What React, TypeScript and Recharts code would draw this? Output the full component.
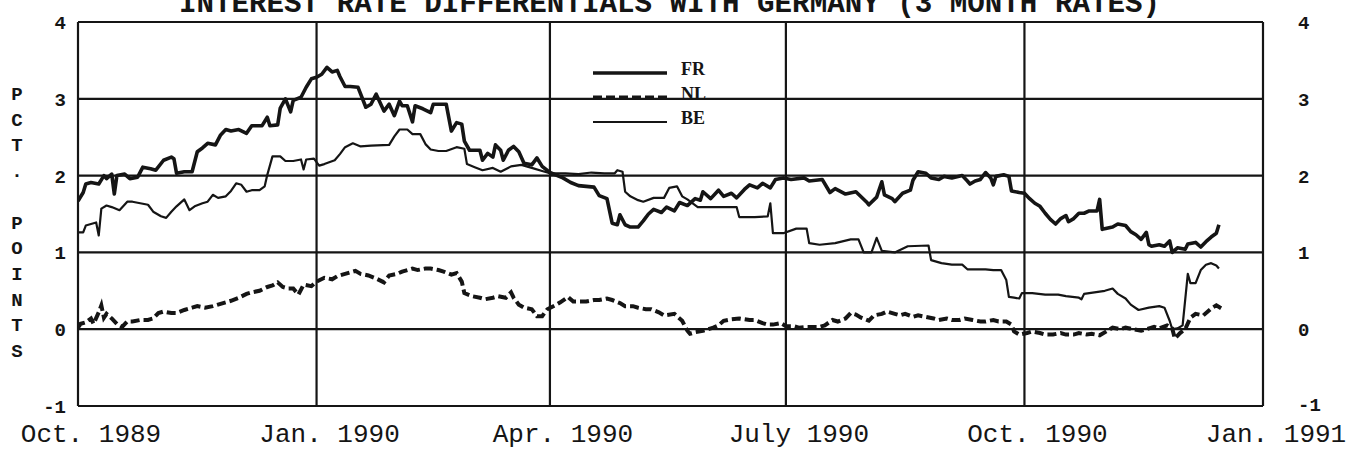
import React from 'react'
import { LineChart, Line, XAxis, YAxis, CartesianGrid, Legend } from 'recharts'

// days counted from 1 Oct 1989
const quarterDays = [0, 92, 182, 273, 365, 457]
const quarterLabels = ['Oct. 1989', 'Jan. 1990', 'Apr. 1990', 'July 1990', 'Oct. 1990', 'Jan. 1991']
const yTicks = [-1, 0, 1, 2, 3, 4]

const title = 'INTEREST RATE DIFFERENTIALS WITH GERMANY (3 MONTH RATES)'
const yTitle = 'PCT. POINTS'

// [day, pct. points]
const frPoints: [number, number][] = [
  [0, 1.67], [2, 1.78], [3, 1.89], [5, 1.91], [8, 1.89], [10, 2.0], [11, 1.96], [13, 2.02], [14, 1.76], [15, 2.0],
  [18, 2.02], [20, 1.96], [23, 1.98], [25, 2.11], [28, 2.09], [30, 2.07], [33, 2.2], [36, 2.24], [37, 2.22], [38, 2.03],
  [41, 2.05], [44, 2.05], [46, 2.31], [48, 2.36], [50, 2.42], [53, 2.4], [55, 2.53], [57, 2.6], [59, 2.58], [62, 2.6],
  [65, 2.55], [67, 2.65], [71, 2.65], [73, 2.76], [74, 2.65], [77, 2.66], [78, 2.88], [80, 3.0], [82, 2.83], [83, 2.98],
  [86, 3.02], [88, 3.15], [90, 3.26], [92, 3.28], [94, 3.32], [96, 3.41], [98, 3.35], [100, 3.37], [101, 3.29], [103, 3.16],
  [105, 3.16], [108, 3.15], [111, 2.89], [113, 2.93], [115, 3.06], [118, 2.84], [120, 2.93], [122, 2.78], [124, 2.97], [125, 2.91],
  [127, 2.91], [129, 2.7], [130, 2.91], [133, 2.87], [136, 2.82], [137, 2.93], [142, 2.93], [144, 2.58], [146, 2.69], [148, 2.67],
  [149, 2.45], [151, 2.33], [155, 2.33], [156, 2.2], [158, 2.29], [160, 2.24], [161, 2.4], [163, 2.33], [164, 2.2], [166, 2.33],
  [168, 2.38], [170, 2.31], [172, 2.16], [175, 2.14], [177, 2.23], [179, 2.12], [182, 2.04], [187, 1.97], [190, 1.91], [193, 1.87],
  [199, 1.85], [201, 1.74], [204, 1.7], [206, 1.38], [208, 1.36], [209, 1.49], [211, 1.36], [213, 1.33], [216, 1.33], [218, 1.41],
  [220, 1.5], [222, 1.56], [225, 1.52], [227, 1.59], [230, 1.54], [232, 1.65], [235, 1.61], [238, 1.7], [240, 1.68], [241, 1.79],
  [244, 1.7], [247, 1.81], [249, 1.73], [252, 1.77], [254, 1.71], [257, 1.82], [259, 1.88], [262, 1.84], [264, 1.9], [267, 1.84],
  [269, 1.95], [272, 1.97], [275, 1.95], [280, 1.97], [282, 1.93], [287, 1.95], [290, 1.78], [292, 1.83], [296, 1.76], [300, 1.79],
  [304, 1.66], [305, 1.62], [308, 1.72], [310, 1.92], [311, 1.75], [314, 1.7], [315, 1.66], [318, 1.77], [321, 1.81], [322, 1.94],
  [324, 2.05], [327, 2.03], [329, 1.97], [332, 1.95], [334, 1.99], [337, 1.97], [341, 2.0], [343, 1.93], [344, 1.89], [346, 1.93],
  [348, 1.95], [350, 2.04], [352, 1.97], [353, 1.88], [354, 1.99], [357, 2.01], [359, 1.99], [360, 1.8], [363, 1.78], [365, 1.77],
  [367, 1.7], [369, 1.64], [371, 1.6], [373, 1.51], [375, 1.43], [377, 1.37], [379, 1.44], [381, 1.48], [382, 1.4], [384, 1.44],
  [386, 1.51], [388, 1.51], [390, 1.54], [393, 1.54], [394, 1.69], [395, 1.3], [399, 1.33], [401, 1.37], [404, 1.35], [406, 1.27],
  [408, 1.23], [410, 1.17], [412, 1.26], [413, 1.1], [414, 1.08], [417, 1.1], [419, 1.08], [421, 1.15], [422, 1.0], [424, 1.06],
  [427, 1.04], [428, 1.11], [431, 1.13], [433, 1.07], [435, 1.14], [437, 1.2], [439, 1.25], [440, 1.36],
]

const nlPoints: [number, number][] = [
  [0, 0.02], [1, 0.07], [3, 0.09], [5, 0.14], [6, 0.07], [8, 0.22], [9, 0.31], [10, 0.15], [11, 0.2], [13, 0.14],
  [15, 0.07], [17, 0.03], [19, 0.1], [21, 0.1], [24, 0.12], [27, 0.12], [29, 0.14], [31, 0.21], [33, 0.23], [36, 0.21],
  [38, 0.21], [41, 0.25], [44, 0.28], [46, 0.3], [49, 0.28], [52, 0.3], [54, 0.32], [57, 0.35], [59, 0.37], [62, 0.41],
  [65, 0.46], [67, 0.48], [70, 0.5], [73, 0.55], [75, 0.57], [77, 0.61], [79, 0.55], [81, 0.53], [83, 0.53], [85, 0.45],
  [87, 0.58], [90, 0.56], [92, 0.62], [95, 0.67], [98, 0.65], [100, 0.69], [103, 0.72], [105, 0.74], [107, 0.76], [109, 0.72],
  [112, 0.7], [115, 0.66], [118, 0.61], [120, 0.7], [123, 0.72], [125, 0.75], [129, 0.79], [131, 0.77], [134, 0.79], [136, 0.79],
  [139, 0.77], [141, 0.75], [144, 0.71], [146, 0.73], [148, 0.62], [149, 0.47], [152, 0.43], [155, 0.41], [157, 0.39], [160, 0.41],
  [162, 0.43], [165, 0.41], [167, 0.48], [168, 0.41], [170, 0.32], [172, 0.28], [175, 0.26], [177, 0.17], [179, 0.17], [181, 0.26],
  [184, 0.31], [186, 0.35], [189, 0.42], [191, 0.36], [194, 0.36], [196, 0.36], [199, 0.38], [201, 0.38], [204, 0.4], [206, 0.38],
  [209, 0.34], [211, 0.3], [214, 0.3], [216, 0.28], [219, 0.26], [221, 0.26], [224, 0.22], [226, 0.18], [230, 0.2], [233, 0.11],
  [235, -0.02], [236, -0.06], [238, -0.04], [241, -0.02], [243, 0.0], [245, 0.02], [247, 0.05], [249, 0.11], [252, 0.13], [255, 0.14],
  [259, 0.12], [261, 0.12], [264, 0.08], [266, 0.06], [268, 0.06], [271, 0.08], [273, 0.04], [276, 0.04], [278, 0.02], [281, 0.03],
  [283, 0.03], [286, 0.03], [288, 0.05], [291, 0.12], [293, 0.1], [296, 0.14], [298, 0.21], [300, 0.19], [302, 0.15], [305, 0.11],
  [307, 0.18], [310, 0.2], [312, 0.23], [315, 0.2], [317, 0.18], [319, 0.2], [322, 0.16], [324, 0.18], [327, 0.16], [330, 0.14],
  [332, 0.12], [335, 0.14], [337, 0.12], [340, 0.12], [342, 0.14], [345, 0.12], [348, 0.1], [350, 0.1], [353, 0.12], [355, 0.1],
  [358, 0.1], [360, 0.06], [361, -0.03], [363, -0.07], [366, -0.05], [368, -0.03], [371, -0.05], [373, -0.07], [376, -0.07], [379, -0.05],
  [381, -0.07], [384, -0.07], [386, -0.05], [389, -0.07], [391, -0.06], [394, -0.08], [397, -0.02], [399, 0.02], [402, 0.0], [404, 0.02],
  [407, 0.0], [410, -0.02], [412, 0.0], [415, 0.03], [417, 0.01], [420, 0.05], [422, 0.01], [423, -0.12], [425, -0.05], [427, 0.0],
  [429, 0.15], [431, 0.2], [434, 0.18], [437, 0.27], [439, 0.31], [441, 0.27],
]

const bePoints: [number, number][] = [
  [0, 1.26], [2, 1.26], [3, 1.35], [5, 1.37], [7, 1.39], [8, 1.22], [9, 1.57], [11, 1.61], [13, 1.59], [16, 1.55],
  [19, 1.66], [21, 1.66], [24, 1.64], [27, 1.62], [29, 1.53], [32, 1.47], [34, 1.45], [36, 1.53], [38, 1.6], [41, 1.69],
  [43, 1.55], [45, 1.6], [48, 1.64], [50, 1.66], [52, 1.75], [54, 1.71], [57, 1.73], [59, 1.8], [61, 1.9], [63, 1.88],
  [65, 1.79], [67, 1.81], [70, 1.81], [72, 1.86], [73, 2.01], [75, 2.25], [78, 2.25], [80, 2.19], [83, 2.19], [86, 2.21],
  [87, 2.08], [88, 2.21], [91, 2.22], [93, 2.13], [95, 2.15], [99, 2.2], [101, 2.28], [103, 2.37], [106, 2.42], [109, 2.38],
  [113, 2.39], [120, 2.4], [122, 2.51], [124, 2.6], [127, 2.6], [129, 2.54], [132, 2.54], [134, 2.41], [136, 2.34], [139, 2.32],
  [142, 2.32], [146, 2.37], [149, 2.35], [150, 2.15], [153, 2.11], [156, 2.07], [160, 2.1], [163, 2.05], [167, 2.12], [171, 2.14],
  [175, 2.1], [179, 2.06], [182, 2.03], [188, 2.03], [193, 2.02], [198, 2.04], [203, 2.03], [207, 2.03], [208, 2.07], [210, 2.05],
  [211, 1.79], [213, 1.73], [216, 1.68], [218, 1.66], [222, 1.71], [226, 1.71], [228, 1.84], [231, 1.86], [233, 1.73], [235, 1.69],
  [239, 1.59], [248, 1.59], [254, 1.59], [255, 1.46], [261, 1.46], [266, 1.47], [267, 1.64], [268, 1.25], [272, 1.25], [277, 1.31],
  [281, 1.31], [282, 1.12], [286, 1.1], [292, 1.12], [298, 1.17], [301, 1.17], [303, 1.0], [306, 1.0], [308, 1.19], [310, 1.02],
  [315, 1.0], [320, 1.08], [328, 1.09], [329, 0.9], [333, 0.86], [337, 0.84], [341, 0.84], [343, 0.78], [350, 0.78], [353, 0.77],
  [356, 0.77], [358, 0.64], [359, 0.42], [361, 0.41], [363, 0.4], [364, 0.47], [368, 0.47], [373, 0.45], [378, 0.45], [381, 0.43],
  [386, 0.41], [387, 0.39], [388, 0.46], [392, 0.48], [396, 0.5], [399, 0.53], [401, 0.46], [404, 0.4], [406, 0.32], [409, 0.25],
  [413, 0.28], [417, 0.3], [419, 0.28], [421, 0.11], [422, 0.0], [424, 0.01], [426, 0.05], [428, 0.72], [429, 0.6], [431, 0.6],
  [433, 0.77], [435, 0.84], [437, 0.86], [439, 0.83], [440, 0.79],
]

const toRows = (pts: [number, number][]) => pts.map(([day, v]) => ({ day, v }))

const ink = '#151515'
const mono = "'Liberation Mono', 'Courier New', monospace"

const seriesStyle: Record<string, { w: number; dash?: string }> = {
  FR: { w: 3.6 },
  NL: { w: 4, dash: '9 4' },
  BE: { w: 2.2 },
}

const LeftTick = ({ x, y, payload }: any) => (
  <text x={x} y={y} dy={7} textAnchor="end" fontFamily={mono} fontWeight="bold" fontSize={19} fill={ink}>
    {payload.value}
  </text>
)

const RightTick = ({ x, y, payload }: any) => (
  <text x={x} y={y} dy={payload.value === -1 ? 5 : 7} textAnchor="start" fontFamily={mono} fontWeight="bold" fontSize={19} fill={ink}>
    {payload.value}
  </text>
)

const BottomTick = ({ x, y, payload }: any) => (
  <text x={x + 13} y={y + 36} textAnchor="middle" fontFamily={mono} fontSize={26} fill={ink}>
    {quarterLabels[quarterDays.indexOf(payload.value)]}
  </text>
)

const LegendBox = () => (
  <svg width={140} height={80}>
    {['FR', 'NL', 'BE'].map((name, i) => {
      const ly = 15 + i * 24.5
      const s = seriesStyle[name]
      return (
        <g key={name}>
          <line x1={3} x2={77} y1={ly} y2={ly} stroke={ink} strokeWidth={s.w} strokeDasharray={s.dash} />
          <text x={91} y={ly + 2} fontFamily="'Liberation Serif', serif" fontWeight="bold" fontSize={18} fill={ink}>
            {name}
          </text>
        </g>
      )
    })}
  </svg>
)

export default function App() {
  return (
    <div style={{ position: 'absolute', left: 0, top: 0, width: 1360, height: 455, background: '#fff' }}>
      <LineChart width={1360} height={455} margin={{ top: 22, right: 0, bottom: 0, left: 0 }}>
        <CartesianGrid stroke={ink} strokeWidth={2.2} />
        <XAxis
          dataKey="day"
          type="number"
          domain={[0, 457]}
          ticks={quarterDays}
          interval={0}
          height={49}
          axisLine={false}
          tickLine={false}
          tickSize={0}
          tickMargin={0}
          tick={<BottomTick />}
          allowDataOverflow
        />
        <YAxis
          domain={[-1, 4]}
          ticks={yTicks}
          interval={0}
          width={78}
          axisLine={false}
          tickLine={false}
          tickSize={0}
          tickMargin={12}
          tick={<LeftTick />}
          allowDataOverflow
        />
        <YAxis
          yAxisId="r"
          orientation="right"
          domain={[-1, 4]}
          ticks={yTicks}
          interval={0}
          width={97}
          axisLine={false}
          tickLine={false}
          tickSize={0}
          tickMargin={35}
          tick={<RightTick />}
          allowDataOverflow
        />
        <Legend
          layout="horizontal"
          verticalAlign="middle"
          align="center"
          content={<LegendBox />}
          wrapperStyle={{ position: 'absolute', left: 590, top: 58, width: 140, height: 80 }}
        />
        <Line data={toRows(bePoints)} dataKey="v" name="BE" type="linear" stroke={ink} strokeWidth={seriesStyle.BE.w}
          dot={false} activeDot={false} isAnimationActive={false} strokeLinejoin="round" />
        <Line data={toRows(nlPoints)} dataKey="v" name="NL" type="linear" stroke={ink} strokeWidth={seriesStyle.NL.w}
          strokeDasharray={seriesStyle.NL.dash} dot={false} activeDot={false} isAnimationActive={false} />
        <Line data={toRows(frPoints)} dataKey="v" name="FR" type="linear" stroke={ink} strokeWidth={seriesStyle.FR.w}
          dot={false} activeDot={false} isAnimationActive={false} strokeLinejoin="round" />
      </LineChart>
      <svg width={1360} height={455} style={{ position: 'absolute', left: 0, top: 0, pointerEvents: 'none' }}>
        <text x={179} y={12} textLength={981} lengthAdjust="spacingAndGlyphs" fontFamily={mono} fontWeight="bold" fontSize={29} fill={ink}>
          {title}
        </text>
        {yTitle.split('').map((ch, i) =>
          ch === ' ' ? null : (
            <text key={i} x={17} y={100 + i * 25.7} textAnchor="middle" fontFamily={mono} fontWeight="bold" fontSize={19} fill={ink}>
              {ch}
            </text>
          )
        )}
      </svg>
    </div>
  )
}
